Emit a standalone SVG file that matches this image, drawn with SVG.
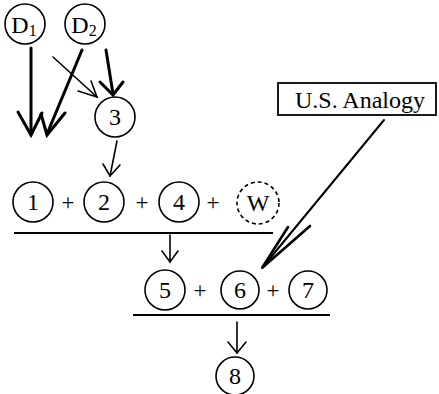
<svg xmlns="http://www.w3.org/2000/svg" width="439" height="394" viewBox="0 0 439 394">
  <style>
    .node { fill: #fff; stroke: #000; stroke-width: 1.6; }
    .dashed { stroke-dasharray: 4 3; }
    .lbl { font-family: "Liberation Serif", "Times New Roman", serif; font-size: 24px; fill: #000; text-anchor: middle; }
    .plus { font-family: "Liberation Serif", "Times New Roman", serif; font-size: 23px; fill: #000; text-anchor: middle; }
    .heavy { fill: none; stroke: #000; stroke-width: 3; stroke-linecap: round; stroke-linejoin: miter; }
    .light { fill: none; stroke: #000; stroke-width: 1.6; stroke-linecap: round; }
    .bar { stroke: #000; stroke-width: 2; }
    .box { fill: #fff; stroke: #000; stroke-width: 1.8; }
  </style>

  <rect width="439" height="394" fill="#fff"/>

  <!-- connectors -->
  <g id="connectors">
    <!-- D1 down -->
    <line class="heavy" x1="31" y1="48" x2="31" y2="134"/>
    <polyline class="heavy" points="18,112 31,135 42,113"/>
    <!-- D2 down-left -->
    <line class="heavy" x1="82" y1="50" x2="47" y2="134"/>
    <polyline class="heavy" points="41,114 47,135 65,113"/>
    <!-- D2 thin to 3 -->
    <line class="light" x1="53" y1="57" x2="97" y2="97"/>
    <polyline class="light" points="78,91 97,97 91,81"/>
    <!-- D2 heavy to 3 -->
    <line class="heavy" x1="106" y1="50" x2="113" y2="94"/>
    <polyline class="heavy" points="100,82 113,95 123,82"/>
    <!-- 3 to row 1 -->
    <line class="light" x1="117" y1="141" x2="110" y2="176"/>
    <polyline class="light" points="103,164 110,176 120,165"/>
    <!-- sum bar of row 1 -->
    <line class="bar" x1="14" y1="233" x2="273" y2="233"/>
    <line class="light" x1="170" y1="235" x2="170" y2="262"/>
    <polyline class="light" points="162,251 170,262 178,251"/>
    <!-- U.S. Analogy to 6 -->
    <line class="light" x1="384" y1="120" x2="262" y2="268" style="stroke-width:2"/>
    <polyline class="heavy" points="288,227 262,268 310,226" style="stroke-width:2.6"/>
    <!-- sum bar of row 2 -->
    <line class="bar" x1="133" y1="315" x2="330" y2="315"/>
    <line class="light" x1="237" y1="322" x2="237" y2="353"/>
    <polyline class="light" points="228,342 237,353 246,342"/>
  </g>

  <!-- top drivers -->
  <g id="node-d1">
    <circle class="node" cx="25" cy="24" r="20"/>
    <text class="lbl" x="24" y="33" font-size="25"><tspan>D</tspan><tspan font-size="16" dy="3">1</tspan></text>
  </g>
  <g id="node-d2">
    <circle class="node" cx="85" cy="24" r="20"/>
    <text class="lbl" x="84" y="33" font-size="25"><tspan>D</tspan><tspan font-size="16" dy="3">2</tspan></text>
  </g>
  <g id="node-3">
    <circle class="node" cx="115" cy="117" r="20"/>
    <text class="lbl" x="115" y="125">3</text>
  </g>

  <!-- row 1 -->
  <g id="node-1">
    <circle class="node" cx="33" cy="202" r="20"/>
    <text class="lbl" x="33" y="210">1</text>
  </g>
  <text class="plus" x="68" y="210">+</text>
  <g id="node-2">
    <circle class="node" cx="104" cy="202" r="20"/>
    <text class="lbl" x="104" y="210">2</text>
  </g>
  <text class="plus" x="142" y="210">+</text>
  <g id="node-4">
    <circle class="node" cx="179" cy="202" r="20"/>
    <text class="lbl" x="179" y="210">4</text>
  </g>
  <text class="plus" x="213" y="210">+</text>
  <g id="node-w">
    <circle class="node dashed" cx="258" cy="203" r="21"/>
    <text class="lbl" x="258" y="211">W</text>
  </g>

  <!-- row 2 -->
  <g id="node-5">
    <circle class="node" cx="165" cy="290" r="20"/>
    <text class="lbl" x="165" y="298">5</text>
  </g>
  <text class="plus" x="200" y="298">+</text>
  <g id="node-6">
    <circle class="node" cx="240" cy="290" r="19"/>
    <text class="lbl" x="240" y="298">6</text>
  </g>
  <text class="plus" x="273" y="298">+</text>
  <g id="node-7">
    <circle class="node" cx="308" cy="290" r="19"/>
    <text class="lbl" x="308" y="298">7</text>
  </g>

  <!-- result -->
  <g id="node-8">
    <circle class="node" cx="235" cy="376" r="19"/>
    <text class="lbl" x="235" y="384">8</text>
  </g>

  <!-- analogy box -->
  <g id="node-analogy">
    <rect class="box" x="278" y="83" width="158" height="32"/>
    <text class="lbl" x="360" y="108" font-size="23">U.S. Analogy</text>
  </g>
</svg>
